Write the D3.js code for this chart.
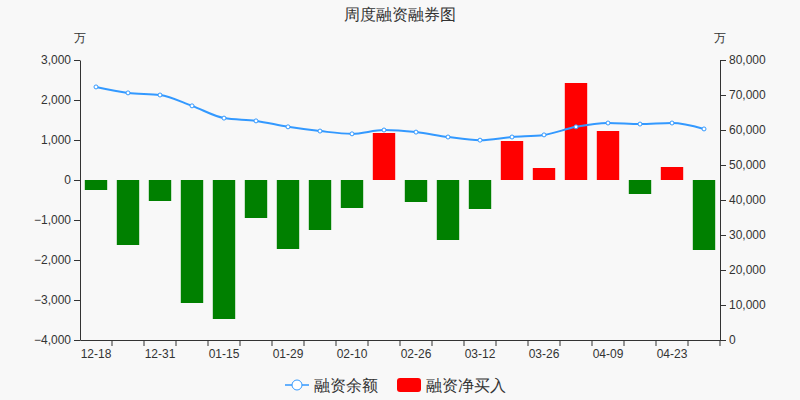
<!DOCTYPE html>
<html><head><meta charset="utf-8">
<script src="https://cdn.jsdelivr.net/npm/d3@7"></script>
<style>body{margin:0;background:#f8f8f8;font-family:"DejaVu Sans",sans-serif}</style>
</head><body><svg id="c" width="800" height="400"></svg>
<script>
var dates = ["12-18","12-24","12-31","01-08","01-15","01-22","01-29","02-05","02-10","02-19","02-26","03-05","03-12","03-19","03-26","04-02","04-09","04-16","04-23","04-30"];
var netBuy = [-250,-1625,-525,-3075,-3475,-950,-1725,-1250,-700,1175,-550,-1500,-725,975,300,2425,1225,-350,325,-1750];
var balance = [72300,70600,70000,66900,63400,62600,60900,59700,58900,60000,59400,58000,57100,58000,58600,60900,62000,61700,62000,60300];
var leftTicks = [-4000,-3000,-2000,-1000,0,1000,2000,3000];
var rightTicks = [0,10000,20000,30000,40000,50000,60000,70000,80000];

var svg = d3.select("#c");
svg.append("rect").attr("width",800).attr("height",400).attr("fill","#f8f8f8");
var x = d3.scaleBand().domain(dates).range([80,720]).paddingInner(0.3).paddingOuter(0.15);
var y = d3.scaleLinear().domain([-4000,3000]).range([340,60]);
var y2 = d3.scaleLinear().domain([0,80000]).range([340,60]);
var fmt = d3.format(",");

var ga = svg.append("g").attr("transform","translate(80,0)")
  .call(d3.axisLeft(y).tickValues(leftTicks).tickFormat(fmt).tickSizeOuter(0));
var gb = svg.append("g").attr("transform","translate(720,0)")
  .call(d3.axisRight(y2).tickValues(rightTicks).tickFormat(fmt).tickSizeOuter(0));
[ga,gb].forEach(function(g){
  g.selectAll("text").attr("fill","#333").style("font-size","12px");
  g.selectAll("line,path").attr("stroke","#333");
});

svg.selectAll(".bar").data(netBuy).enter().append("rect")
  .attr("x",function(d,i){return x(dates[i]);})
  .attr("width",x.bandwidth())
  .attr("y",function(d){return y(Math.max(d,0));})
  .attr("height",function(d){return Math.abs(y(d)-y(0));})
  .attr("fill",function(d){return d>=0?"#ff0000":"#008000";});

var gx = svg.append("g").attr("transform","translate(0,340)")
  .call(d3.axisBottom(x).tickSizeOuter(0).tickFormat(function(d,i){return i%2==0?d:"";}));
gx.selectAll("text").attr("fill","#333").style("font-size","12px");
gx.selectAll("line,path").attr("stroke","#333");
gx.selectAll(".tick line").attr("transform","translate("+(x.step()/2)+",0)");

var cx = function(d,i){return x(dates[i])+x.bandwidth()/2;};
svg.append("path").datum(balance)
  .attr("d",d3.line().x(cx).y(function(d){return y2(d);}).curve(d3.curveMonotoneX))
  .attr("fill","none").attr("stroke","#3399ff").attr("stroke-width",2);
svg.selectAll(".pt").data(balance).enter().append("circle")
  .attr("cx",cx).attr("cy",function(d){return y2(d);}).attr("r",2)
  .attr("fill","#fff").attr("stroke","#3399ff");

svg.append("text").attr("x",400).attr("y",20).attr("text-anchor","middle")
  .style("font-size","16px").attr("fill","#333").text("周度融资融券图");
svg.append("text").attr("x",80).attr("y",42).attr("text-anchor","middle").style("font-size","12px").attr("fill","#333").text("万");
svg.append("text").attr("x",720).attr("y",42).attr("text-anchor","middle").style("font-size","12px").attr("fill","#333").text("万");

var lg = svg.append("g").attr("transform","translate(285,385)");
lg.append("line").attr("x1",0).attr("x2",24).attr("y1",0).attr("y2",0).attr("stroke","#3399ff").attr("stroke-width",1.5);
lg.append("circle").attr("cx",12).attr("cy",0).attr("r",5).attr("fill","#fff").attr("stroke","#3399ff");
lg.append("text").attr("x",29).attr("y",6).style("font-size","16px").attr("fill","#333").text("融资余额");
lg.append("rect").attr("x",112).attr("y",-7).attr("width",24).attr("height",14).attr("rx",3).attr("fill","#ff0000");
lg.append("text").attr("x",141).attr("y",6).style("font-size","16px").attr("fill","#333").text("融资净买入");
</script></body></html>
